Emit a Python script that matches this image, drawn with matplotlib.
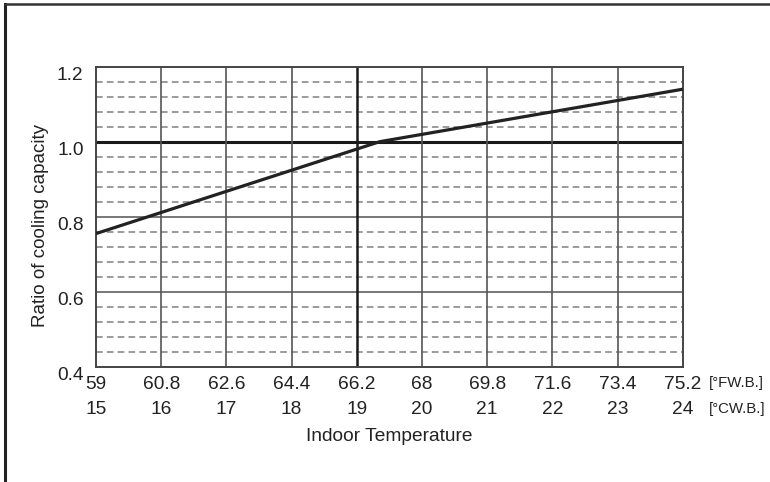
import numpy as np
import matplotlib.pyplot as plt
from matplotlib.lines import Line2D

plt.rcParams['font.family'] = ['Liberation Sans', 'DejaVu Sans']

# indoor temperature, deg C wet bulb, and the matching deg F labels
celsius_ticks = [15, 16, 17, 18, 19, 20, 21, 22, 23, 24]
fahrenheit_labels = ['59', '60.8', '62.6', '64.4', '66.2', '68', '69.8', '71.6', '73.4', '75.2']

# capacity ratio curve
curve_c = [15, 19.35, 24]
curve_ratio = [0.755, 1.0, 1.14]

y_major = [0.4, 0.6, 0.8, 1.0, 1.2]
y_minor = np.arange(0.44, 1.2, 0.04)

fig = plt.figure(figsize=(7.7, 4.82), dpi=100)
ax = fig.add_axes([0.1247, 0.2392, 0.762, 0.6224])

ax.set_xlim(15, 24)
ax.set_ylim(0.4, 1.2)

for v in y_minor:
    if min(abs(v - m) for m in y_major) < 1e-6:
        continue
    ax.axhline(v, color='#8a8a8a', lw=1.2, ls=(0, (4, 2.5)), zorder=1)
for v in [0.6, 0.8]:
    ax.axhline(v, color='#777777', lw=1.4, zorder=2)
ax.axhline(1.0, color='#1a1a1a', lw=2.2, zorder=2)

for c in celsius_ticks[1:-1]:
    if c == 19:
        ax.axvline(c, color='#1a1a1a', lw=1.8, zorder=2)
    else:
        ax.axvline(c, color='#555555', lw=1.2, zorder=2)

ax.plot(curve_c, curve_ratio, color='#222222', lw=2.3, zorder=3, solid_capstyle='butt')

ax.set_xticks(celsius_ticks)
ax.set_xticklabels([f"{f}\n{c}" for f, c in zip(fahrenheit_labels, celsius_ticks)],
                   fontsize=13.8, linespacing=1.6, color='#222222')
ax.set_yticks(y_major)
ax.set_yticklabels(['0.4', '0.6', '0.8', '1.0', '1.2'], fontsize=13.8, color='#222222',
                   va='top')
ax.tick_params(axis='both', length=0)
ax.tick_params(axis='x', pad=7)
ax.tick_params(axis='y', pad=9)

for sp in ax.spines.values():
    sp.set_color('#444444')
    sp.set_linewidth(1.4)

ax.set_ylabel('Ratio of cooling capacity', fontsize=13.5, color='#222222')
ax.yaxis.set_label_coords(-0.08, 0.47)
ax.set_xlabel('Indoor Temperature', fontsize=13.8, color='#222222', labelpad=7)

ax.text(1.045, -0.055, '[°FW.B.]', transform=ax.transAxes, fontsize=10.8,
        va='center', ha='left', color='#222222')
ax.text(1.045, -0.142, '[°CW.B.]', transform=ax.transAxes, fontsize=10.8,
        va='center', ha='left', color='#222222')

# outer frame (only top and left edges show)
fig.add_artist(Line2D([0.0065, 0.0065], [0, 0.992], transform=fig.transFigure,
                      color='#222222', lw=2.2))
fig.add_artist(Line2D([0.0065, 1.0], [0.992, 0.992], transform=fig.transFigure,
                      color='#333333', lw=1.8))

fig.savefig('out.png', dpi=100)
